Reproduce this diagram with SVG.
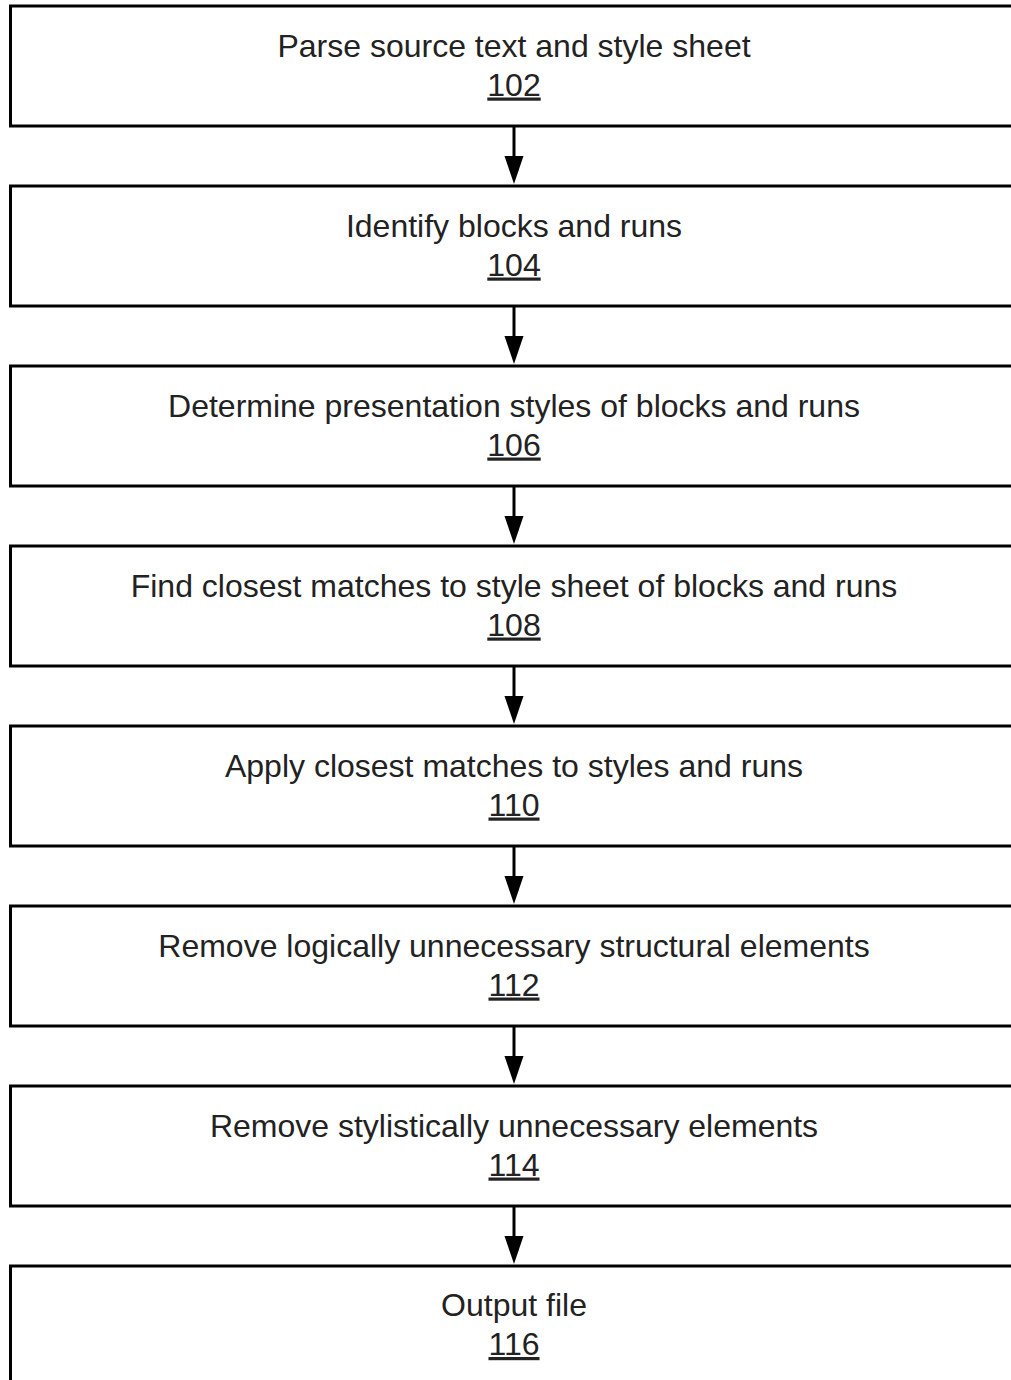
<svg xmlns="http://www.w3.org/2000/svg" width="1011" height="1380" viewBox="0 0 1011 1380">
<style>
.box{fill:#fff;stroke:#000;stroke-width:3}
.t{font-family:"Liberation Sans",Arial,sans-serif;font-size:32px;fill:#222;text-anchor:middle}
.n{text-decoration:underline}
.c{stroke:#000;stroke-width:3;fill:none}
</style>
<g id="connectors">
<line class="c" x1="514" y1="126" x2="514" y2="157"/><path d="M504.5 156 L523.5 156 L514 184 Z"/>
<line class="c" x1="514" y1="306" x2="514" y2="337"/><path d="M504.5 336 L523.5 336 L514 364 Z"/>
<line class="c" x1="514" y1="486" x2="514" y2="517"/><path d="M504.5 516 L523.5 516 L514 544 Z"/>
<line class="c" x1="514" y1="666" x2="514" y2="697"/><path d="M504.5 696 L523.5 696 L514 724 Z"/>
<line class="c" x1="514" y1="846" x2="514" y2="877"/><path d="M504.5 876 L523.5 876 L514 904 Z"/>
<line class="c" x1="514" y1="1026" x2="514" y2="1057"/><path d="M504.5 1056 L523.5 1056 L514 1084 Z"/>
<line class="c" x1="514" y1="1206" x2="514" y2="1237"/><path d="M504.5 1236 L523.5 1236 L514 1264 Z"/>
</g>
<g id="n102"><rect class="box" x="10.5" y="6" width="1010" height="120"/><text class="t" x="514" y="56.5">Parse source text and style sheet</text><text class="t n" x="514" y="95.5">102</text></g>
<g id="n104"><rect class="box" x="10.5" y="186" width="1010" height="120"/><text class="t" x="514" y="236.5">Identify blocks and runs</text><text class="t n" x="514" y="275.5">104</text></g>
<g id="n106"><rect class="box" x="10.5" y="366" width="1010" height="120"/><text class="t" x="514" y="416.5">Determine presentation styles of blocks and runs</text><text class="t n" x="514" y="455.5">106</text></g>
<g id="n108"><rect class="box" x="10.5" y="546" width="1010" height="120"/><text class="t" x="514" y="596.5">Find closest matches to style sheet of blocks and runs</text><text class="t n" x="514" y="635.5">108</text></g>
<g id="n110"><rect class="box" x="10.5" y="726" width="1010" height="120"/><text class="t" x="514" y="776.5">Apply closest matches to styles and runs</text><text class="t n" x="514" y="815.5">110</text></g>
<g id="n112"><rect class="box" x="10.5" y="906" width="1010" height="120"/><text class="t" x="514" y="956.5">Remove logically unnecessary structural elements</text><text class="t n" x="514" y="995.5">112</text></g>
<g id="n114"><rect class="box" x="10.5" y="1086" width="1010" height="120"/><text class="t" x="514" y="1136.5">Remove stylistically unnecessary elements</text><text class="t n" x="514" y="1175.5">114</text></g>
<g id="n116"><rect class="box" x="10.5" y="1266" width="1010" height="140"/><text class="t" x="514" y="1316">Output file</text><text class="t n" x="514" y="1355">116</text></g>
</svg>
